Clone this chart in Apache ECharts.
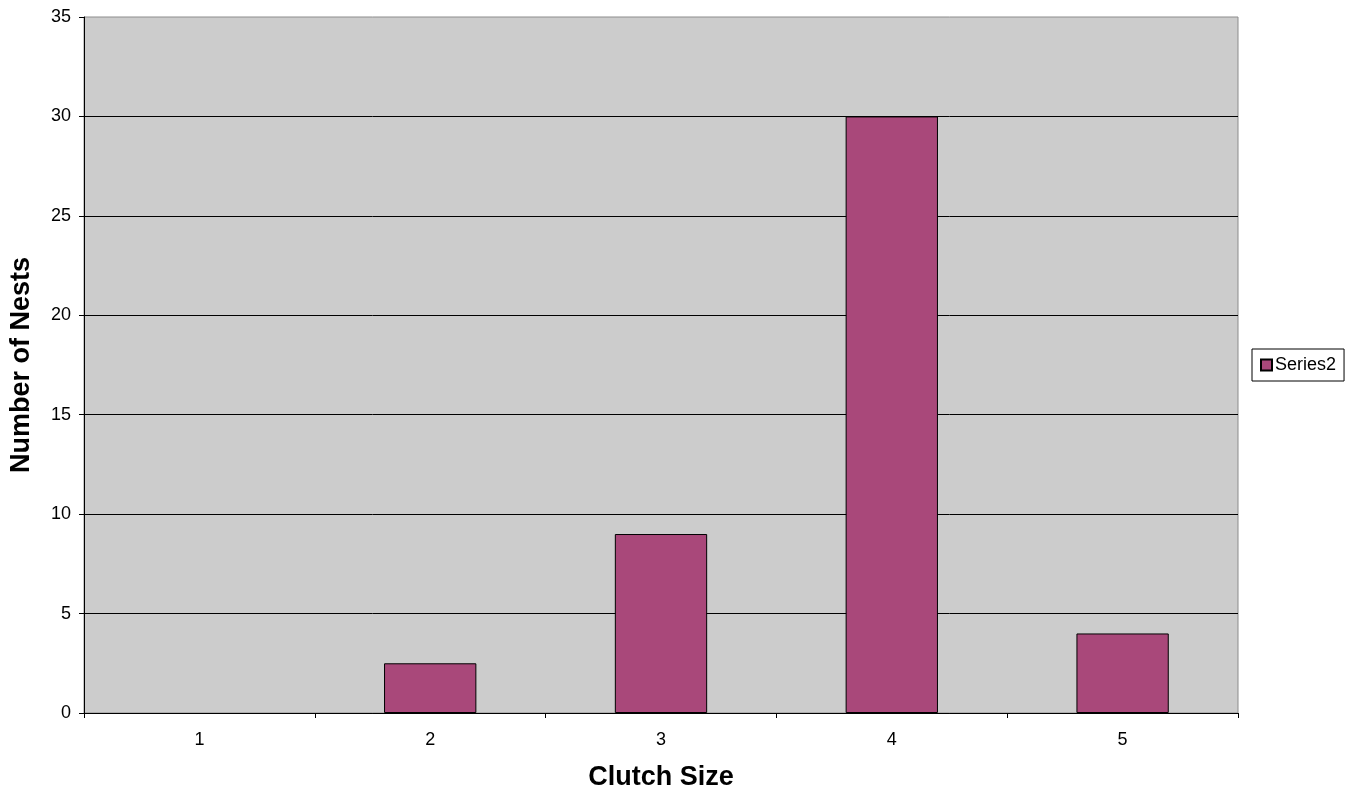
<!DOCTYPE html>
<html>
<head>
<meta charset="utf-8">
<script src="https://cdn.jsdelivr.net/npm/echarts@6/dist/echarts.min.js"></script>
<style>
  html, body { margin: 0; padding: 0; background: #fff; }
  #chart { width: 1353px; height: 791px; }
</style>
</head>
<body>
<div id="chart"></div>
<script>
// Clutch size distribution
const categories = ['1', '2', '3', '4', '5'];
const nests = [0, 2.5, 9, 30, 4];
const seriesName = 'Series2';

const chart = echarts.init(document.getElementById('chart'), null, { renderer: 'canvas' });
const font = 'Liberation Sans, Arial, sans-serif';

// zero-height bars get no outline
const barData = nests.map(v => v === 0 ? { value: v, itemStyle: { borderWidth: 0 } } : v);

chart.setOption({
  animation: false,
  backgroundColor: '#ffffff',
  textStyle: { fontFamily: font },
  grid: {
    left: 84, right: 115, top: 17, bottom: 78,
    outerBoundsMode: 'none',
    containLabel: false,
    show: true,
    backgroundColor: '#cccccc',
    borderColor: '#8c8c8c',
    borderWidth: 1
  },
  legend: {
    data: [seriesName],
    orient: 'vertical',
    left: 1252, top: 349,
    icon: 'rect',
    itemWidth: 11, itemHeight: 11, itemGap: 4,
    padding: [7, 8, 7, 8],
    borderColor: '#000', borderWidth: 1,
    backgroundColor: '#fff',
    textStyle: { fontFamily: font, fontSize: 18, color: '#000', padding: [0, 0, 0, -2] }
  },
  xAxis: {
    type: 'category',
    data: categories,
    name: 'Clutch Size',
    nameLocation: 'middle',
    nameGap: 51,
    nameTextStyle: { fontFamily: font, fontSize: 27, fontWeight: 'bold', color: '#000' },
    axisLine: { lineStyle: { color: '#000', width: 1 } },
    axisTick: { show: true, length: 5, lineStyle: { color: '#000' } },
    axisLabel: { fontSize: 18, color: '#000', margin: 18 }
  },
  yAxis: {
    type: 'value',
    min: 0, max: 35, interval: 5,
    name: 'Number of Nests',
    nameLocation: 'middle',
    nameGap: 49,
    nameTextStyle: { fontFamily: font, fontSize: 27, fontWeight: 'bold', color: '#000' },
    axisLine: { show: true, lineStyle: { color: '#000', width: 1 } },
    axisTick: { show: true, length: 5, lineStyle: { color: '#000' } },
    axisLabel: { fontSize: 18, color: '#000', margin: 13 },
    splitLine: { show: true, showMaxLine: false, lineStyle: { color: '#000', width: 1 } }
  },
  series: [{
    name: seriesName,
    type: 'bar',
    data: barData,
    barWidth: '40%',
    itemStyle: { color: '#a9487a', borderColor: '#000', borderWidth: 1 }
  }]
});
</script>
</body>
</html>
